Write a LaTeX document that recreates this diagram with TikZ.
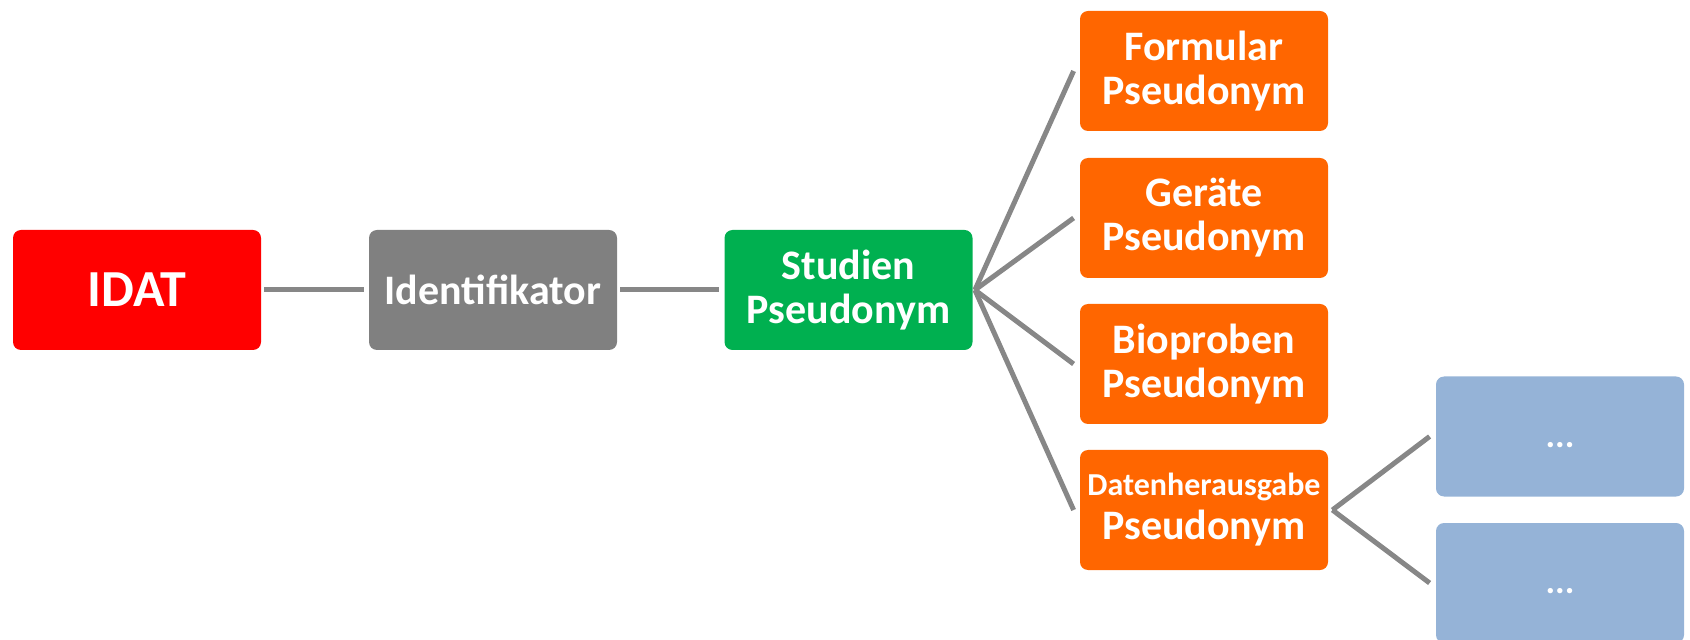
\documentclass[tikz,border=0pt]{standalone}
\usepackage{fontspec}
\setmainfont{Carlito}
\definecolor{cred}{HTML}{FF0000}
\definecolor{cgray}{HTML}{808080}
\definecolor{cgreen}{HTML}{00B050}
\definecolor{corange}{HTML}{FF6600}
\definecolor{cblue}{HTML}{95B3D7}
\definecolor{cline}{HTML}{878787}
\begin{document}
\begin{tikzpicture}[x=0.5pt,y=-0.5pt,
  box/.style={rounded corners=4pt, minimum width=124pt, minimum height=60pt,
    inner sep=0pt, text=white, align=center, font=\bfseries\fontsize{21}{22}\selectfont},
  dots/.style={box, fill=cblue, font=\bfseries\fontsize{18}{19}\selectfont},
  link/.style={draw=cline, line width=2.5pt}]
\useasboundingbox (0,0) rectangle (1690,640);
\begin{scope}
\clip (0,0) rectangle (1690,640);
\node[box, fill=cred, font=\bfseries\fontsize{26}{27}\selectfont] (idat) at (137,290) {IDAT};
\node[box, fill=cgray] (ident) at (493,290) {Identifikator};
\node[box, fill=cgreen] (stud) at (848.5,290) {Studien\\Pseudonym};
\node[box, fill=corange] (f1) at (1204,71) {Formular\\Pseudonym};
\node[box, fill=corange] (f2) at (1204,218) {Geräte\\Pseudonym};
\node[box, fill=corange] (f3) at (1204,364) {Bioproben\\Pseudonym};
\node[box, fill=corange] (f4) at (1204,510) {{\fontsize{16}{17}\selectfont Datenherausgabe}\\Pseudonym};
\node[dots] (b1) at (1560,436.5) {\smash{\raisebox{-5.3pt}{...}}};
\node[dots] (b2) at (1560,583) {\smash{\raisebox{-5.3pt}{...}}};
\end{scope}
\draw[link] ([xshift=1.5pt]idat.east) -- ([xshift=-2.5pt]ident.west);
\draw[link] ([xshift=1.5pt]ident.east) -- ([xshift=-2.5pt]stud.west);
\coordinate (s) at ([xshift=1pt]stud.east);
\foreach \n in {f1,f2,f3,f4}
  \draw[link] (s) -- ([xshift=-3pt]\n.west);
\coordinate (d) at ([xshift=2pt]f4.east);
\draw[link] (d) -- ([xshift=-3pt]b1.west);
\draw[link] (d) -- ([xshift=-3pt]b2.west);
\end{tikzpicture}
\end{document}
